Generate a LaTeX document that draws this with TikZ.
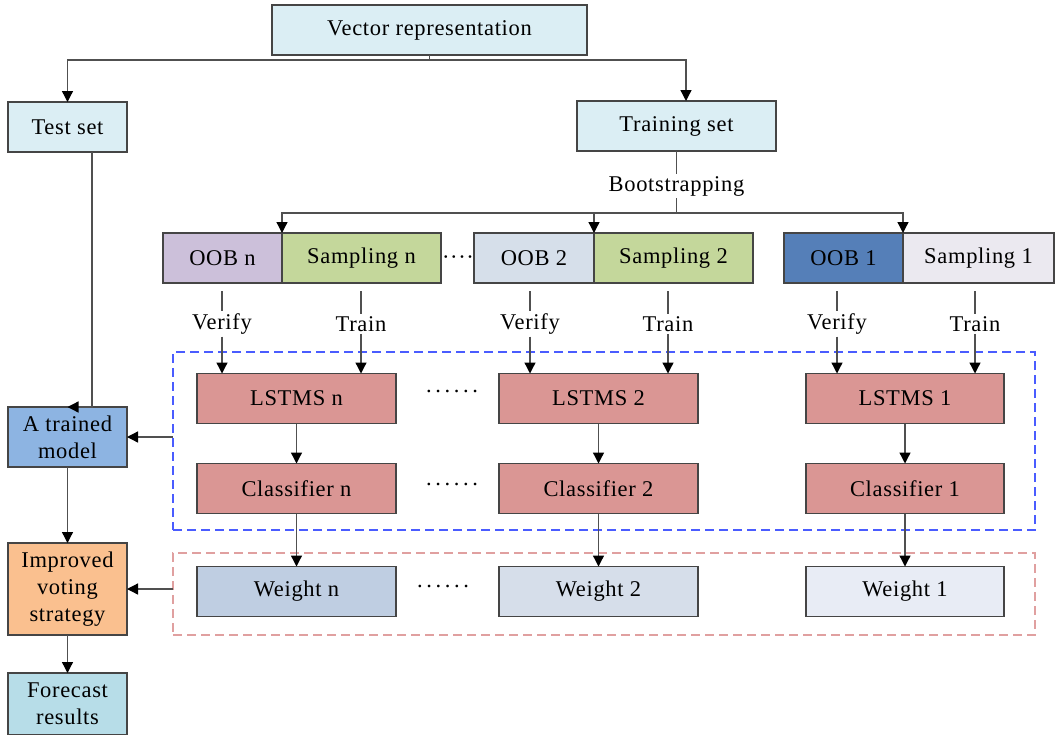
\documentclass[tikz,border=0pt]{standalone}
\usepackage{fontspec}
\setmainfont[LetterSpace=3]{Liberation Serif}
\usetikzlibrary{arrows.meta,calc}

\definecolor{boxline}{HTML}{454545}
\definecolor{connline}{HTML}{505050}
\definecolor{paleblue}{HTML}{DBEEF4}
\definecolor{oobn}{HTML}{CCC0DA}
\definecolor{sampgreen}{HTML}{C4D79B}
\definecolor{oobtwo}{HTML}{D6DFEA}
\definecolor{oobone}{HTML}{557FB8}
\definecolor{sampone}{HTML}{EBE9F0}
\definecolor{lstmred}{HTML}{DA9694}
\definecolor{weightn}{HTML}{BFCEE2}
\definecolor{weighttwo}{HTML}{D6DEEA}
\definecolor{weightone}{HTML}{E8ECF5}
\definecolor{trained}{HTML}{8DB4E2}
\definecolor{improved}{HTML}{FAC08F}
\definecolor{forecast}{HTML}{B7DDE8}
\definecolor{dashblue}{HTML}{4A5CFF}
\definecolor{dashred}{HTML}{E0A0A0}

\newcommand\dotrow{.\hspace{3.6pt}.\hspace{3.6pt}.\hspace{3.6pt}.\hspace{3.6pt}.\hspace{3.6pt}.}

\begin{document}
\begin{tikzpicture}[x=1pt,y=-1pt,
  every node/.style={font=\fontsize{22.5}{27}\selectfont},
  box/.style={draw=boxline, line width=1.3pt, inner sep=0pt, outer sep=0pt,
              minimum height=50pt, align=center},
  frame/.style={dashed, dash pattern=on 9pt off 5pt, line width=2pt,
                inner sep=0pt, outer sep=0pt},
  conn/.style={draw=connline, line width=1.3pt},
  arr/.style={conn, -{Triangle[width=11pt,length=11pt,color=black]}},
  lbl/.style={inner sep=2pt},
]
\useasboundingbox (0,0) rectangle (1055,734);

% dashed group frames
\node[frame, draw=dashblue, minimum width=862pt, minimum height=178pt] (grpA) at (604,441) {};
\node[frame, draw=dashred,  minimum width=862pt, minimum height=82pt]  (grpB) at (604,594) {};

% top level
\node[box, fill=paleblue, minimum width=315pt] (vec) at (429.5,30) {Vector representation};
\node[box, fill=paleblue, minimum width=119pt] (test) at (67.5,127) {Test set};
\node[box, fill=paleblue, minimum width=199pt] (train) at (676.5,126) {Training set};
\node[lbl] (boot) at (676.5,186) {Bootstrapping};

% bootstrap samples
\node[box, fill=oobn,      minimum width=119pt] (oobn)  at (222.5,258) {OOB n};
\node[box, fill=sampgreen, minimum width=159pt] (sampn) at (361.5,258) {Sampling n};
\node[box, fill=oobtwo,    minimum width=120pt] (oob2)  at (534,258)   {OOB 2};
\node[box, fill=sampgreen, minimum width=159pt] (samp2) at (673.5,258) {Sampling 2};
\node[box, fill=oobone,    minimum width=119pt] (oob1)  at (843.5,258) {OOB 1};
\node[box, fill=sampone,   minimum width=151pt] (samp1) at (978.5,258) {Sampling 1};
\node (gapdots) at (458,260) {····};

% verify / train labels
\node[lbl] (vn) at (222,324) {Verify};
\node[lbl] (tn) at (361,324) {Train};
\node[lbl] (v2) at (530,324) {Verify};
\node[lbl] (t2) at (668,324) {Train};
\node[lbl] (v1) at (837,324) {Verify};
\node[lbl] (t1) at (975,324) {Train};

% learners
\node[box, fill=lstmred, minimum width=199pt] (lstn) at (296.5,398.5) {LSTMS n};
\node[box, fill=lstmred, minimum width=199pt] (lst2) at (598.5,398.5) {LSTMS 2};
\node[box, fill=lstmred, minimum width=198pt] (lst1) at (905,398.5)   {LSTMS 1};
\node[box, fill=lstmred, minimum width=199pt] (clsn) at (296.5,488.5) {Classifier n};
\node[box, fill=lstmred, minimum width=199pt] (cls2) at (598.5,488.5) {Classifier 2};
\node[box, fill=lstmred, minimum width=198pt] (cls1) at (905,488.5)   {Classifier 1};
\node[box, fill=weightn,   minimum width=199pt] (wn) at (296.5,591.5) {Weight n};
\node[box, fill=weighttwo, minimum width=199pt] (w2) at (598.5,591.5) {Weight 2};
\node[box, fill=weightone, minimum width=198pt] (w1) at (905,591.5)   {Weight 1};
\node (dotsA) at (452,391) {\dotrow};
\node (dotsB) at (452,484) {\dotrow};
\node (dotsC) at (443,586) {\dotrow};

% left column
\node[box, fill=trained,  minimum width=119pt, minimum height=60pt] (model) at (67.5,437) {A trained\\model};
\node[box, fill=improved, minimum width=119pt, minimum height=92pt] (vote)  at (67.5,589) {Improved\\voting\\strategy};
\node[box, fill=forecast, minimum width=119pt, minimum height=62pt] (fcst)  at (67.5,704) {Forecast\\results};

% connectors: data split
\coordinate (split) at (429.5,60);
\coordinate (trin) at ([xshift=9.5pt]train.north);
\draw[conn] (vec.south) -- (split);
\draw[arr] (split) -| (test.north);
\draw[arr] (split) -| (trin);

% bootstrapping
\coordinate (bsplit) at (676.5,213);
\draw[conn] (train.south) -- (boot.north);
\draw[conn] (boot.south) -- (bsplit);
\draw[arr] (bsplit) -| (oobn.north east);
\draw[arr] (bsplit) -| (oob2.north east);
\draw[arr] (bsplit) -| (oob1.north east);

% verify / train feeds
\foreach \lab/\src/\dst in {vn/oobn/lstn, tn/sampn/lstn, v2/oob2/lst2, t2/samp2/lst2, v1/oob1/lst1, t1/samp1/lst1}{
  \draw[conn, shorten <=8pt] (\lab.north |- \src.south) -- (\lab.north);
  \draw[arr] (\lab.south) -- (\lab.south |- \dst.north);
}

% learner chains
\foreach \a/\b/\c in {lstn/clsn/wn, lst2/cls2/w2, lst1/cls1/w1}{
  \draw[arr] (\a.south) -- (\b.north);
  \draw[arr] (\b.south) -- (\c.north);
}

% left column flow
\draw[arr] ([xshift=24.5pt]test.south) |- (model.north);
\draw[arr] (grpA.west |- model.east) -- (model.east);
\draw[arr] (model.south) -- (vote.north);
\draw[arr] (grpB.west |- vote.east) -- (vote.east);
\draw[arr] (vote.south) -- (fcst.north);
\end{tikzpicture}
\end{document}
